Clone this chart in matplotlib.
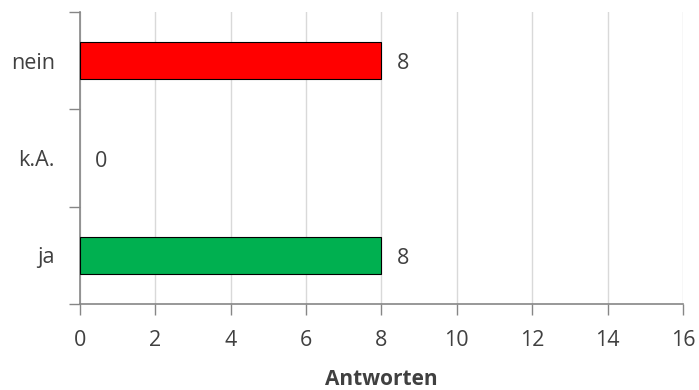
import matplotlib.pyplot as plt
import numpy as np

# ---------------------------------------
# Data
# ---------------------------------------
categories = ["ja", "k.A.", "nein"]
answers = [8, 0, 8]
bar_colors = ["#00B050", "#FFFFFF", "#FF0000"]
x_ticks = [0, 2, 4, 6, 8, 10, 12, 14, 16]

TEXT = "#404040"
AXIS = "#868686"
GRID = "#D9D9D9"

plt.rcParams["font.family"] = ["Open Sans", "DejaVu Sans"]

fig = plt.figure(figsize=(6.99, 3.9), dpi=100)
ax = fig.add_axes([0.1144, 0.2205, 0.8626, 0.7485])

y = np.arange(len(categories))
for yi, val, col in zip(y, answers, bar_colors):
    if val > 0:
        ax.barh(yi, val, height=0.38, color=col, edgecolor="#000000",
                linewidth=0.8, zorder=3)
    ax.annotate(str(val), xy=(val, yi), xytext=(15, -3),
                textcoords="offset pixels",
                ha="left", va="center", fontsize=15.5, color=TEXT)

ax.set_xlim(0, 16)
ax.set_ylim(-0.5, 2.5)
ax.set_xticks(x_ticks)
ax.set_xticklabels([str(t) for t in x_ticks])

# category boundaries as major ticks, labels at minor positions
ax.set_yticks([-0.5, 0.5, 1.5, 2.5])
ax.set_yticklabels([])
ax.set_yticks(y, minor=True)
ax.set_yticklabels(categories, minor=True)
ax.tick_params(axis="y", which="minor", length=0, pad=18,
               labelsize=15.5, labelcolor=TEXT)
ax.tick_params(axis="y", which="major", length=8, width=1, color=AXIS)
ax.tick_params(axis="x", length=8, width=1, color=AXIS, pad=11,
               labelsize=15.5, labelcolor=TEXT)

ax.grid(True, axis="x", color=GRID, linewidth=1, zorder=0)
ax.set_axisbelow(True)

for side in ["top", "right"]:
    ax.spines[side].set_visible(False)
for side in ["left", "bottom"]:
    ax.spines[side].set_color(AXIS)
    ax.spines[side].set_linewidth(1.2)

ax.set_xlabel("Antworten", fontsize=15, fontweight="bold", color=TEXT,
              labelpad=13)

fig.savefig("out.png", dpi=100)
